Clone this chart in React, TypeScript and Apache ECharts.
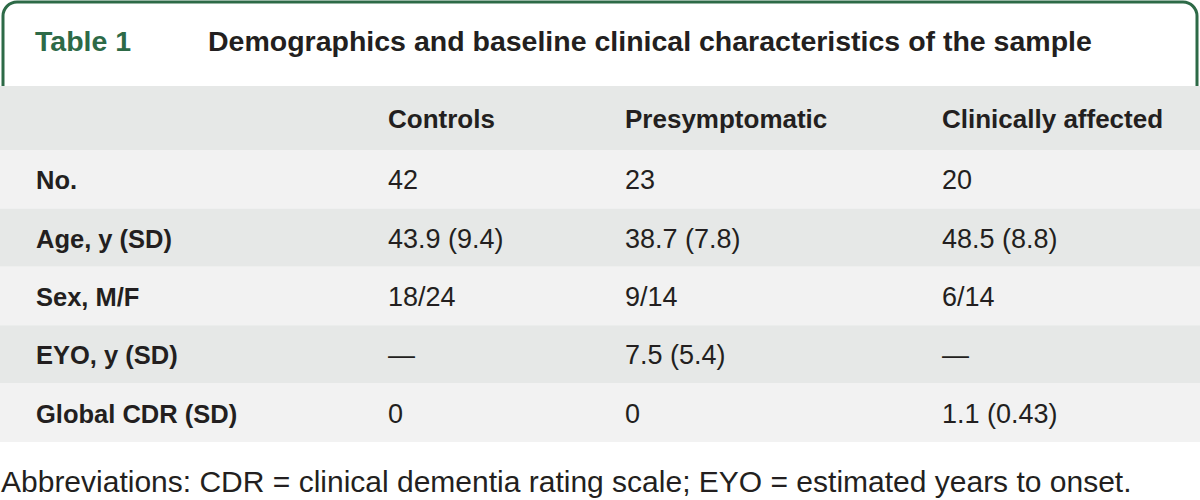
import React, { useEffect, useRef } from "react";
import * as echarts from "echarts";

const tableNumber = "Table 1";
const tableTitle = "Demographics and baseline clinical characteristics of the sample";
const columns = ["Controls", "Presymptomatic", "Clinically affected"];
const rowLabels = ["No.", "Age, y (SD)", "Sex, M/F", "EYO, y (SD)", "Global CDR (SD)"];
const controls = ["42", "43.9 (9.4)", "18/24", "—", "0"];
const presymptomatic = ["23", "38.7 (7.8)", "9/14", "7.5 (5.4)", "0"];
const clinicallyAffected = ["20", "48.5 (8.8)", "6/14", "—", "1.1 (0.43)"];
const footnote =
  "Abbreviations: CDR = clinical dementia rating scale; EYO = estimated years to onset.";

const GREEN = "#2d6a47";
const TEXT = "#231f20";
const DARK_ROW = "#e6e8e7";
const LIGHT_ROW = "#f2f2f2";
const FONT = "'Liberation Sans', Arial, sans-serif";

export default function App() {
  const ref = useRef<HTMLDivElement>(null);

  useEffect(() => {
    document.body.style.margin = "0";
    if (!ref.current) return;
    const chart = echarts.init(ref.current, null, { renderer: "svg" });

    const colX = [36, 388, 625, 942];
    const headerTop = 86;
    const headerH = 64;
    const rowH = 58.4;
    const valueCols = [controls, presymptomatic, clinicallyAffected];

    const elements: any[] = [];

    elements.push({
      type: "rect",
      shape: { x: 3, y: 2, width: 1194, height: 140, r: [14, 14, 0, 0] },
      style: { fill: "#fff", stroke: GREEN, lineWidth: 3 },
      z: 1,
    });
    elements.push({
      type: "text",
      x: 35,
      y: 41,
      style: {
        text: tableNumber,
        fill: GREEN,
        font: `bold 28.5px ${FONT}`,
        verticalAlign: "middle",
      },
      z: 5,
    });
    elements.push({
      type: "text",
      x: 208,
      y: 41,
      style: {
        text: tableTitle,
        fill: TEXT,
        font: `bold 28.5px ${FONT}`,
        verticalAlign: "middle",
      },
      z: 5,
    });

    elements.push({
      type: "rect",
      shape: { x: 0, y: headerTop, width: 1200, height: headerH },
      style: { fill: DARK_ROW },
      z: 2,
    });
    columns.forEach((c, i) => {
      elements.push({
        type: "text",
        x: colX[i + 1],
        y: headerTop + headerH / 2 + 1,
        style: { text: c, fill: TEXT, font: `bold 26px ${FONT}`, verticalAlign: "middle" },
        z: 5,
      });
    });

    rowLabels.forEach((label, r) => {
      const top = headerTop + headerH + r * rowH;
      elements.push({
        type: "rect",
        shape: { x: 0, y: top, width: 1200, height: rowH },
        style: { fill: r % 2 === 0 ? LIGHT_ROW : DARK_ROW },
        z: 2,
      });
      elements.push({
        type: "text",
        x: colX[0],
        y: top + rowH / 2 + 1,
        style: { text: label, fill: TEXT, font: `bold 25.5px ${FONT}`, verticalAlign: "middle" },
        z: 5,
      });
      valueCols.forEach((col, ci) => {
        elements.push({
          type: "text",
          x: colX[ci + 1],
          y: top + rowH / 2 + 1,
          style: { text: col[r], fill: TEXT, font: `27px ${FONT}`, verticalAlign: "middle" },
          z: 5,
        });
      });
    });

    elements.push({
      type: "text",
      x: 1,
      y: 481,
      style: { text: footnote, fill: TEXT, font: `30px ${FONT}`, verticalAlign: "middle" },
      z: 5,
    });

    chart.setOption({
      animation: false,
      backgroundColor: "#fff",
      graphic: { elements },
    });

    return () => chart.dispose();
  }, []);

  return <div ref={ref} style={{ width: 1200, height: 500 }} />;
}
